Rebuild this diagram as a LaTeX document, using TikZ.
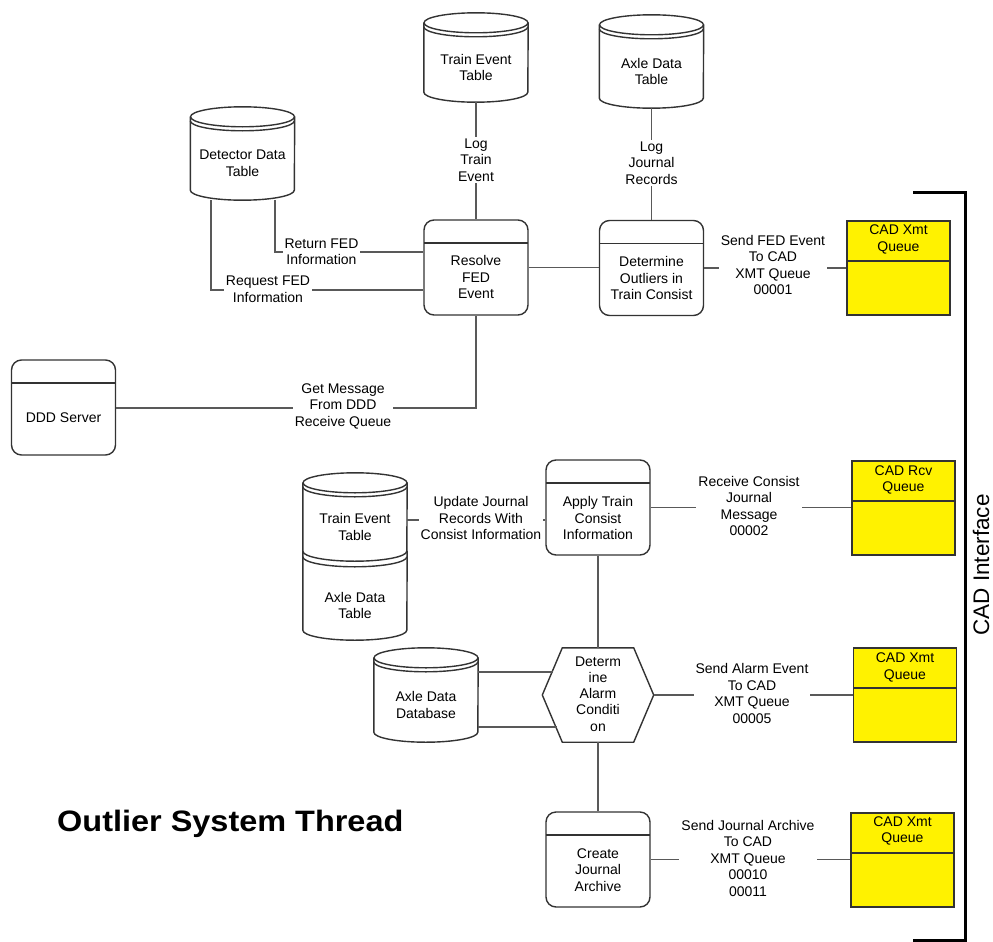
\documentclass[tikz,border=0pt]{standalone}
\usepackage{fontspec}
\setmainfont{Liberation Sans}
\usetikzlibrary{calc}
\tikzset{
  shp/.style={draw=black!80, line width=1.4pt},
  conn/.style={draw=black!65, line width=1.3pt},
  txt/.style={font=\fontsize{14}{16.5}\selectfont, align=center, inner sep=1pt},
  lbl/.style={txt, fill=white, inner sep=2pt},
  db/.style={txt, minimum width=104pt, inner sep=0pt},
  proc/.style={shp, rounded corners=10pt, minimum width=104pt, minimum height=95pt, inner sep=0pt,
    path picture={\draw[draw=black!80, line width=1.4pt] ([yshift=-23pt]path picture bounding box.north west) -- ([yshift=-23pt]path picture bounding box.north east);}},
  queue/.style={shp, fill=yellow, minimum width=103pt, minimum height=94pt, inner sep=0pt,
    path picture={\draw[draw=black!80, line width=1.4pt] ([yshift=-40pt]path picture bounding box.north west) -- ([yshift=-40pt]path picture bounding box.north east);}},
  hexbox/.style={minimum width=111pt, minimum height=94pt, inner sep=0pt},
  bracket/.style={draw=black, line width=3pt},
}
\newcommand{\cylinderdraw}[1]{%
  \draw[shp] ([yshift=10pt]#1.north) ellipse [x radius=52pt, y radius=10pt];
  \draw[shp] ([yshift=6pt]#1.north west) arc [start angle=180, end angle=360, x radius=52pt, y radius=10pt];
  \draw[shp] ([yshift=10pt]#1.north west) -- ([yshift=10pt]#1.south west)
     arc [start angle=180, end angle=360, x radius=52pt, y radius=10pt] -- ([yshift=10pt]#1.north east);
}
\begin{document}
\begin{tikzpicture}[x=1pt, y=1pt]
\useasboundingbox (0,0) rectangle (993,-942);

% ---------- data stores ----------
\node[db, minimum height=69pt] (tet) at (476,-67.5) {Train Event\\Table};
\cylinderdraw{tet}
\node[db, minimum height=73pt] (adt) at (651.5,-71.5) {Axle Data\\Table};
\cylinderdraw{adt}
\node[db, minimum height=73pt] (det) at (242.5,-163.5) {Detector Data\\Table};
\cylinderdraw{det}
\node[db, minimum height=74pt] (adb) at (426,-705) {Axle Data\\Database};
\cylinderdraw{adb}
% stacked tables
\node[db, minimum height=68pt] (tet2) at (355,-527) {Train Event\\Table};
\cylinderdraw{tet2}
\node[db, minimum height=69pt] (axt2) at (355,-605.5) {Axle Data\\Table};
\draw[shp] ([yshift=14pt]axt2.north west) arc [start angle=180, end angle=360, x radius=52pt, y radius=10pt];
\draw[shp] ([yshift=20pt]axt2.north west) -- ([yshift=10pt]axt2.south west)
   arc [start angle=180, end angle=360, x radius=52pt, y radius=10pt] -- ([yshift=20pt]axt2.north east);

% ---------- processes ----------
\node[proc] (res) at (476,-267.5) {};
\node[txt] (res-t) at (476,-277) {Resolve\\FED\\Event};
\node[proc] (dtr) at (651.5,-268) {};
\node[txt] (dtr-t) at (651.5,-278) {Determine\\Outliers in\\Train Consist};
\node[proc] (ddd) at (63.5,-407.5) {};
\node[txt] (ddd-t) at (63.5,-418) {DDD Server};
\node[proc] (app) at (598,-507.5) {};
\node[txt] (app-t) at (598,-518) {Apply Train\\Consist\\Information};
\node[proc] (cja) at (598,-859.5) {};
\node[txt] (cja-t) at (598,-870) {Create\\Journal\\Archive};

% hexagon
\node[hexbox] (hex) at (598,-695) {};
\draw[shp] (hex.west) -- ([xshift=20pt]hex.north west) -- ([xshift=-20pt]hex.north east) -- (hex.east)
  -- ([xshift=-20pt]hex.south east) -- ([xshift=20pt]hex.south west) -- cycle;
\node[txt, font=\fontsize{14}{16.2}\selectfont] (hex-t) at (598,-694) {Determ\\ine\\Alarm\\Conditi\\on};
\coordinate (hu) at (552.8,-672);
\coordinate (hl) at (556.6,-727);

% ---------- queues ----------
\node[queue] (q1) at (898.5,-268) {};
\node[txt] (q1-t) at (898.5,-239.5) {CAD Xmt\\Queue};
\node[queue] (q2) at (903.5,-508) {};
\node[txt] (q2-t) at (903.5,-480) {CAD Rcv\\Queue};
\node[queue] (q3) at (905,-695) {};
\node[txt] (q3-t) at (905,-667.5) {CAD Xmt\\Queue};
\node[queue] (q4) at (902.5,-860) {};
\node[txt] (q4-t) at (902.5,-831) {CAD Xmt\\Queue};

% ---------- connectors ----------
\draw[conn] (tet) -- (res);
\node[lbl] (l-lte) at (476,-160) {Log\\Train\\Event};
\draw[conn] (adt) -- (dtr);
\node[lbl] (l-ljr) at (651.5,-163) {Log\\Journal\\Records};

\draw[conn] ([xshift=32.5pt]det.south) |- (res.west |- 0,-252);
\node[lbl] (l-ret) at (321.5,-251.5) {Return FED\\Information};
\draw[conn] ([xshift=-31.5pt]det.south) |- (res.west |- 0,-290);
\node[lbl] (l-req) at (268,-289) {Request FED\\Information};

\draw[conn] (res.east) -- (dtr.west |- res.east);
\draw[conn] (dtr.east) -- (q1.west |- dtr.east);
\node[lbl] (l-sfe) at (773,-265) {Send FED Event\\To CAD\\XMT Queue\\00001};

\draw[conn] (ddd.east |- 0,-408) -| (res.south);
\node[lbl] (l-gm) at (343,-406) {Get Message\\From DDD\\Receive Queue};

\draw[conn] (tet2.east |- 0,-520) -- (app.west |- 0,-520);
\node[lbl] (l-uj) at (481,-518) {Update Journal\\Records With\\Consist Information};

\draw[conn] (app.east) -- (q2.west |- app.east);
\node[lbl] (l-rc) at (749,-506) {Receive Consist\\Journal\\Message\\00002};

\draw[conn] (app.south) -- (hex.north);
\draw[conn] (hex.south) -- (cja.north);
\draw[conn] (adb.east |- hu) -- (hu);
\draw[conn] (adb.east |- hl) -- (hl);

\draw[conn] (hex.east) -- (q3.west |- hex.east);
\node[lbl] (l-sa) at (752,-693.5) {Send Alarm Event\\To CAD\\XMT Queue\\00005};

\draw[conn] (cja.east) -- (q4.west |- cja.east);
\node[lbl] (l-sj) at (748,-858) {Send Journal Archive\\To CAD\\XMT Queue\\00010\\00011};

% ---------- bracket and titles ----------
\coordinate (b1) at (913,-192);
\coordinate (b2) at (965,-192);
\coordinate (b3) at (965,-940);
\coordinate (b4) at (913,-940);
\draw[bracket] (b1) -- (b2) -- (b3) -- (b4);
\node[rotate=90, inner sep=0pt, font=\fontsize{22.5}{27}\selectfont] (cadi) at (981,-565) {CAD Interface};
\node[anchor=base west, inner sep=0pt, font=\bfseries\fontsize{29.5}{34}\selectfont] (title) at (57,-831) {\scalebox{1.1}[1]{Outlier System Thread}};
\end{tikzpicture}
\end{document}
